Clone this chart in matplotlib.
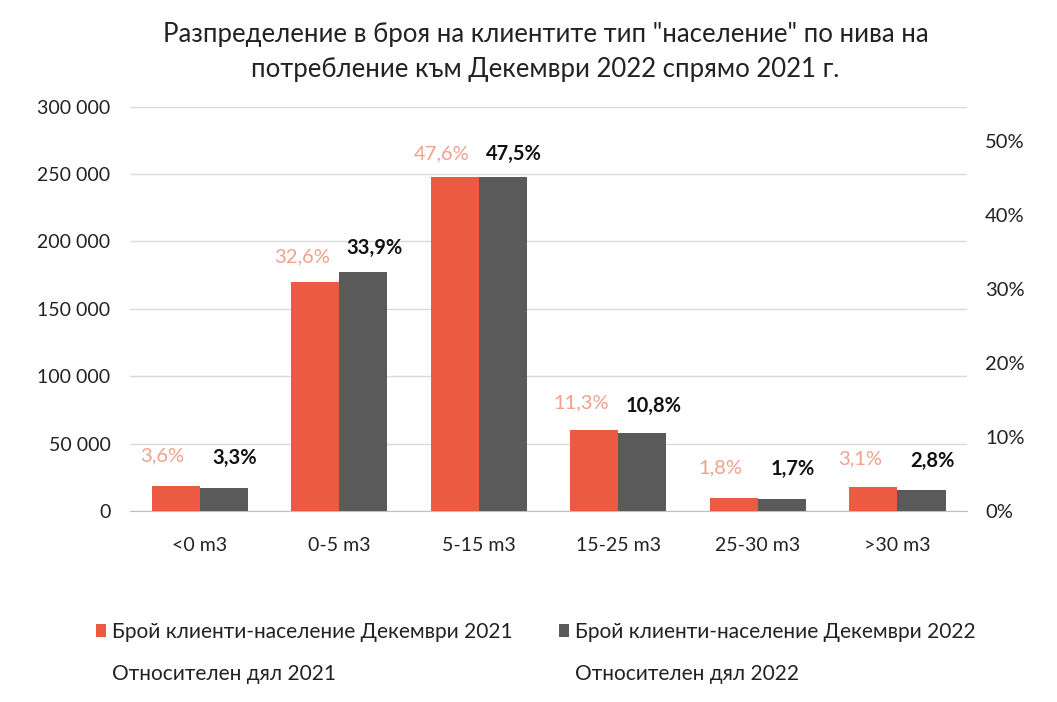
import matplotlib
matplotlib.use("Agg")
import matplotlib.pyplot as plt
from matplotlib.patches import Patch
from matplotlib.lines import Line2D
from matplotlib.ticker import FuncFormatter
import numpy as np

categories = ["<0 m3", "0-5 m3", "5-15 m3", "15-25 m3", "25-30 m3", ">30 m3"]
clients_2021 = [18500, 170000, 248000, 60000, 10000, 17500]
clients_2022 = [17300, 177000, 248000, 58000, 9000, 15500]
share_2021 = [0.036, 0.326, 0.476, 0.113, 0.018, 0.031]
share_2022 = [0.033, 0.339, 0.475, 0.108, 0.017, 0.028]
share_2021_labels = ["3,6%", "32,6%", "47,6%", "11,3%", "1,8%", "3,1%"]
share_2022_labels = ["3,3%", "33,9%", "47,5%", "10,8%", "1,7%", "2,8%"]
left_ticks = [0, 50000, 100000, 150000, 200000, 250000, 300000]
right_ticks = [0, 0.1, 0.2, 0.3, 0.4, 0.5]

title = 'Разпределение в броя на клиентите тип "население" по нива на\nпотребление към Декември 2022 спрямо 2021 г.'
lbl_2021 = "Брой клиенти-население Декември 2021"
lbl_2022 = "Брой клиенти-население Декември 2022"
lbl_s2021 = "Относителен дял 2021"
lbl_s2022 = "Относителен дял 2022"

plt.rcParams['font.family'] = ['Lato', 'DejaVu Sans']
RED = "#EC5A41"
GRAY = "#5A5A5A"
SALMON = "#F2A08C"
TXT = "#222222"

fig = plt.figure(figsize=(10.57, 7.02), dpi=100)
ax = fig.add_axes([0.123, 0.272, 0.792, 0.576])
ax2 = ax.twinx()
ax3 = ax.twinx()  # hidden axis carrying the share series (labels only)

x = np.arange(len(categories))
w = 0.345
ax.bar(x - w/2, clients_2021, width=w, color=RED, zorder=3)
ax.bar(x + w/2, clients_2022, width=w, color=GRAY, zorder=3)

ax.set_xlim(-0.5, len(categories) - 0.5)
ax.set_ylim(0, 300000)
ax.set_yticks(left_ticks)
ax.yaxis.set_major_formatter(FuncFormatter(lambda v, p: f"{int(v):,}".replace(",", " ")))
ax.grid(axis='y', color="#D9D9D9", linewidth=1, zorder=0)
ax.set_xticks(x)
ax.set_xticklabels(categories)
for a in (ax, ax2, ax3):
    for s in ["top", "right", "left"]:
        a.spines[s].set_visible(False)
ax.spines["bottom"].set_color("#BFBFBF")
ax2.spines["bottom"].set_visible(False)
ax3.spines["bottom"].set_visible(False)
ax.tick_params(axis='both', length=0, labelsize=14, colors=TXT)
ax.tick_params(axis='x', pad=19)
ax.tick_params(axis='y', pad=14)

ax2.set_ylim(0, 0.547)
ax2.set_yticks(right_ticks)
ax2.yaxis.set_major_formatter(FuncFormatter(lambda v, p: f"{v*100:.0f}%"))
ax2.tick_params(axis='y', length=0, labelsize=14.5, colors=TXT, pad=13)

ax3.set_ylim(-0.045, 0.5445)
ax3.set_yticks([])
ax3.plot(x, share_2021, linestyle="none")
ax3.plot(x, share_2022, linestyle="none")
for xi, s, t in zip(x, share_2021, share_2021_labels):
    ax3.text(xi - 0.27, s, t, ha="center", va="center", fontsize=14.5, color=SALMON)
for xi, s, t in zip(x, share_2022, share_2022_labels):
    ax3.text(xi + 0.25, s, t, ha="center", va="center", fontsize=14.5, color="#111111",
             fontweight="bold")

fig.text(0.516, 0.926, title, ha="center", va="center", fontsize=18.5, color=TXT,
         linespacing=1.5)

handles = [Patch(facecolor=RED, edgecolor="none"),
           Line2D([], [], linestyle="none"),
           Patch(facecolor=GRAY, edgecolor="none"),
           Line2D([], [], linestyle="none")]
labels = [lbl_2021, lbl_s2021, lbl_2022, lbl_s2022]
fig.legend(handles, labels, ncol=2, loc="upper left", bbox_to_anchor=(0.073, 0.141),
           frameon=False, fontsize=15, handlelength=0.5, handleheight=0.6,
           handletextpad=0.25, columnspacing=2.25, labelspacing=1.05, labelcolor=TXT)

fig.savefig("out.png", dpi=100, facecolor="white")
